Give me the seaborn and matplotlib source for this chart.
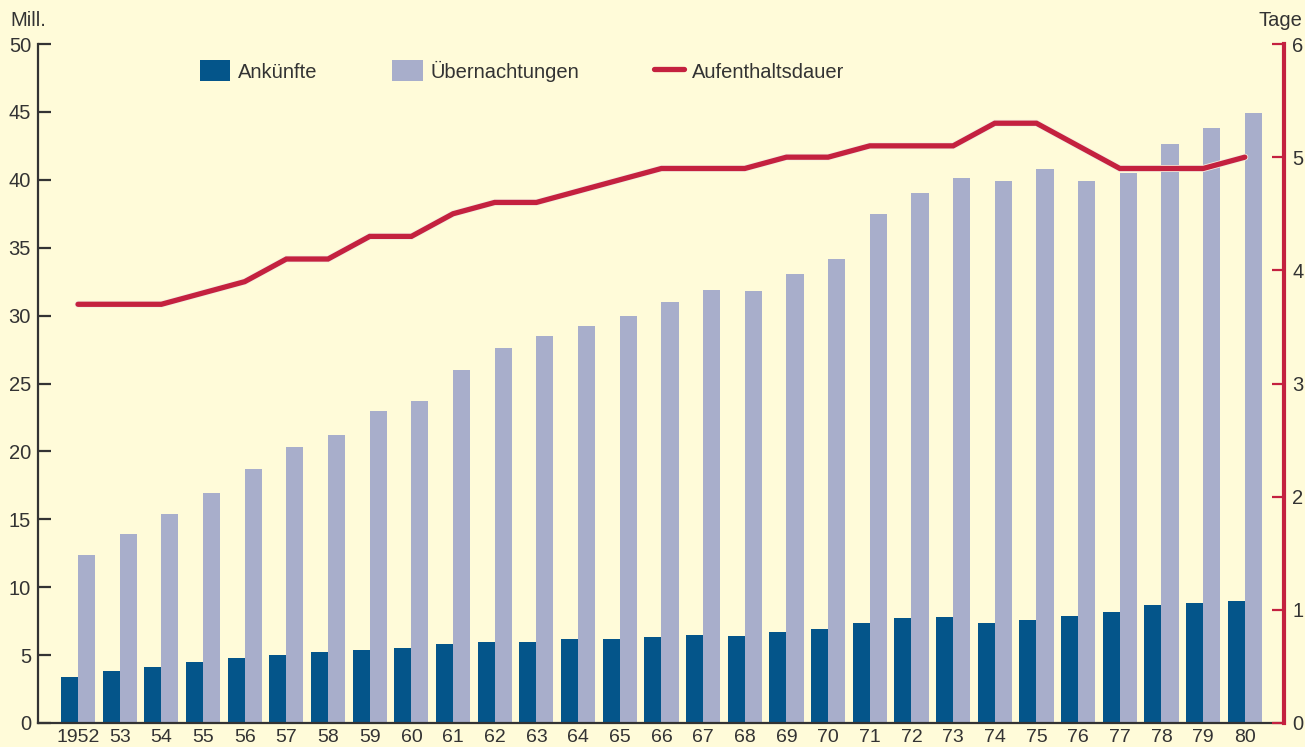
import numpy as np
import pandas as pd
import matplotlib
matplotlib.use("Agg")
import matplotlib.pyplot as plt
import matplotlib.patheffects as pe
from matplotlib.patches import Patch
from matplotlib.lines import Line2D
import seaborn as sns

# --- data ---
years = ["1952"] + [str(y) for y in range(53, 81)]
ankuenfte = [3.4, 3.8, 4.1, 4.5, 4.8, 5.0, 5.2, 5.4, 5.5, 5.8,
             6.0, 6.0, 6.2, 6.2, 6.3, 6.5, 6.4, 6.7, 6.9, 7.4,
             7.7, 7.8, 7.4, 7.6, 7.9, 8.2, 8.7, 8.8, 9.0]
uebernachtungen = [12.4, 13.9, 15.4, 16.9, 18.7, 20.3, 21.2, 23.0, 23.7, 26.0,
                   27.6, 28.5, 29.2, 30.0, 31.0, 31.9, 31.8, 33.1, 34.2, 37.5,
                   39.0, 40.1, 39.9, 40.8, 39.9, 40.5, 42.6, 43.8, 44.9]
aufenthalt = [3.7, 3.7, 3.7, 3.8, 3.9, 4.1, 4.1, 4.3, 4.3, 4.5,
              4.6, 4.6, 4.7, 4.8, 4.9, 4.9, 4.9, 5.0, 5.0, 5.1,
              5.1, 5.1, 5.3, 5.3, 5.1, 4.9, 4.9, 4.9, 5.0]

BG = "#FFFBD9"
DARK = "#04558A"
LIGHT = "#A8AECB"
RED = "#C4213F"
INK = "#333333"
FS = 14.5

sns.set_style("white")
plt.rcParams["font.family"] = ["Liberation Sans", "DejaVu Sans"]

df = pd.DataFrame({
    "Jahr": years * 2,
    "Wert": ankuenfte + uebernachtungen,
    "Serie": ["Ankünfte"] * len(years) + ["Übernachtungen"] * len(years),
})

fig = plt.figure(figsize=(13.05, 7.47), dpi=100, facecolor=BG)
ax = fig.add_axes([38 / 1305, 1 - 723 / 747, (1284 - 38) / 1305, (723 - 44) / 747])
ax.set_facecolor(BG)

sns.barplot(data=df, x="Jahr", y="Wert", hue="Serie",
            palette={"Ankünfte": DARK, "Übernachtungen": LIGHT},
            width=0.82, gap=0, saturation=1, linewidth=0,
            ax=ax, legend=False)

ax.set_xlim(-0.96, 28.94)
ax.set_ylim(0, 50)
ax.set_yticks(range(0, 51, 5))
ax.set_xlabel("")
ax.set_ylabel("")
for s in ["top", "right"]:
    ax.spines[s].set_visible(False)
for s in ["left", "bottom"]:
    ax.spines[s].set_color(INK)
    ax.spines[s].set_linewidth(1.6)
ax.tick_params(axis="y", direction="in", length=9, width=1.6, color=INK,
               labelsize=FS, labelcolor=INK, pad=5)
ax.tick_params(axis="x", length=0, labelsize=14, labelcolor=INK, pad=4)

ax2 = ax.twinx()
sns.lineplot(x=np.arange(len(years)), y=aufenthalt, ax=ax2, color=RED,
             linewidth=3.8, solid_joinstyle="miter",
             path_effects=[pe.Stroke(linewidth=5.0, foreground="#F4EFE0"), pe.Normal()])
ax2.set_ylim(0, 6)
ax2.set_yticks(range(0, 7))
for s in ["top", "left", "bottom"]:
    ax2.spines[s].set_visible(False)
ax2.spines["right"].set_color(RED)
ax2.spines["right"].set_linewidth(3)
ax2.tick_params(axis="y", direction="in", length=9, width=1.6, color=RED,
                labelsize=FS, labelcolor=INK, pad=6)

fig.text(10 / 1305, 1 - 20 / 747, "Mill.", fontsize=FS, color=INK, va="center", ha="left")
fig.text(1302 / 1305, 1 - 20 / 747, "Tage", fontsize=FS, color=INK, va="center", ha="right")

handles = [Patch(facecolor=DARK, edgecolor="none"),
           Patch(facecolor=LIGHT, edgecolor="none"),
           Line2D([0], [0], color=RED, linewidth=3.8)]
labels = ["Ankünfte", "Übernachtungen", "Aufenthaltsdauer"]
fig.legend(handles, labels, ncol=3, loc="center left",
           bbox_to_anchor=(182 / 1305, 1 - 71 / 747), frameon=False,
           fontsize=FS, handlelength=1.5, handleheight=1.2,
           handletextpad=0.4, columnspacing=3.7, labelcolor=INK)

fig.savefig("out.png", dpi=100, facecolor=BG)
